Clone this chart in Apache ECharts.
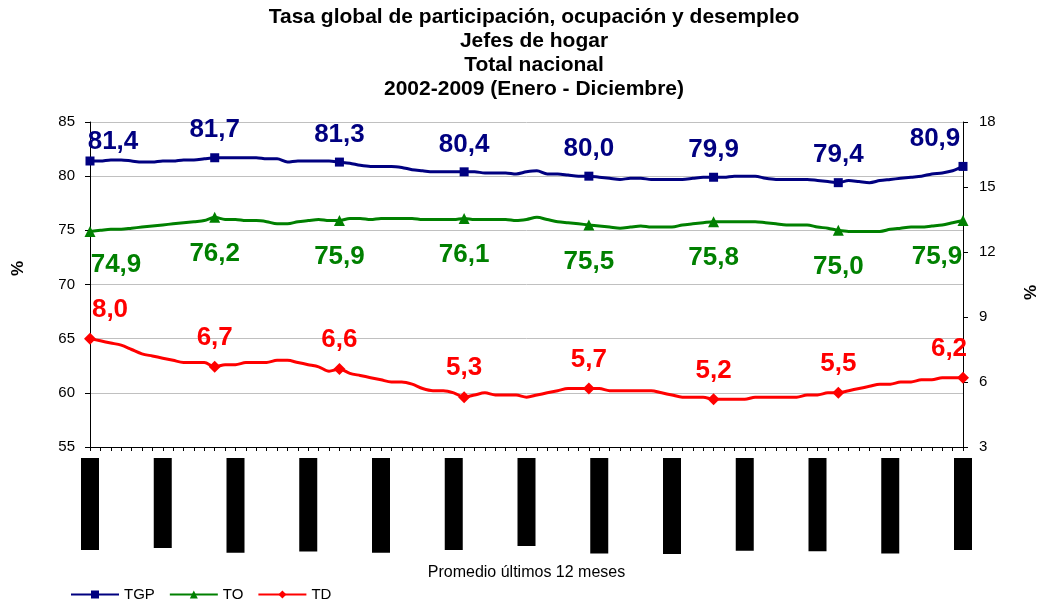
<!DOCTYPE html>
<html>
<head>
<meta charset="utf-8">
<script src="https://cdn.jsdelivr.net/npm/echarts@6/dist/echarts.min.js"></script>
<style>
  html, body { margin: 0; padding: 0; background: #fff; }
  #chart { width: 1041px; height: 603px; }
</style>
</head>
<body>
<div id="chart"></div>
<script>
// titulo del grafico
var titulo = [
  'Tasa global de participación, ocupación y desempleo',
  'Jefes de hogar',
  'Total nacional',
  '2002-2009 (Enero - Diciembre)'
];

// periodos moviles de 12 meses (Ene02-Dic02 ... Ene09-Dic09)
var meses = ['Ene', 'Feb', 'Mar', 'Abr', 'May', 'Jun', 'Jul', 'Ago', 'Sep', 'Oct', 'Nov', 'Dic'];
var categorias = [];
for (var i = 0; i < 85; i++) {
  var a1 = 2002 + Math.floor(i / 12);
  var a2 = 2002 + Math.floor((i + 11) / 12);
  categorias.push(meses[i % 12] + String(a1).slice(2) + ' - ' + meses[(i + 11) % 12] + String(a2).slice(2));
}

// TGP (eje izquierdo)
var tgp = [
  81.4, 81.4, 81.5, 81.5, 81.4, 81.3, 81.3, 81.4, 81.4, 81.5, 81.5, 81.6,
  81.7, 81.7, 81.7, 81.7, 81.7, 81.6, 81.6, 81.3, 81.4, 81.4, 81.4, 81.4,
  81.3, 81.2, 81.0, 80.9, 80.9, 80.9, 80.8, 80.6, 80.5, 80.4, 80.4, 80.4,
  80.4, 80.4, 80.3, 80.3, 80.3, 80.2, 80.4, 80.5, 80.2, 80.2, 80.1, 80.0,
  80.0, 79.9, 79.8, 79.7, 79.8, 79.8, 79.7, 79.7, 79.7, 79.7, 79.8, 79.9,
  79.9, 79.9, 80.0, 80.0, 80.0, 79.8, 79.7, 79.7, 79.7, 79.7, 79.6, 79.5,
  79.4, 79.6, 79.5, 79.4, 79.6, 79.7, 79.8, 79.9, 80.0, 80.2, 80.3, 80.5,
  80.9
];

// TO (eje izquierdo)
var to = [
  74.9, 75.0, 75.1, 75.1, 75.2, 75.3, 75.4, 75.5, 75.6, 75.7, 75.8, 75.9,
  76.2, 76.0, 76.0, 75.9, 75.9, 75.8, 75.6, 75.6, 75.8, 75.9, 76.0, 75.9,
  75.9, 76.1, 76.1, 76.0, 76.1, 76.1, 76.1, 76.1, 76.0, 76.0, 76.0, 76.0,
  76.1, 76.0, 76.0, 76.0, 76.0, 75.9, 76.0, 76.2, 76.0, 75.8, 75.7, 75.6,
  75.5, 75.4, 75.3, 75.2, 75.3, 75.4, 75.3, 75.3, 75.3, 75.5, 75.6, 75.7,
  75.8, 75.8, 75.8, 75.8, 75.8, 75.7, 75.6, 75.5, 75.5, 75.5, 75.3, 75.2,
  75.0, 74.9, 74.9, 74.9, 74.9, 75.1, 75.2, 75.3, 75.3, 75.4, 75.5, 75.7,
  75.9
];

// TD (eje derecho)
var td = [
  8.0, 7.9, 7.8, 7.7, 7.5, 7.3, 7.2, 7.1, 7.0, 6.9, 6.9, 6.9,
  6.7, 6.8, 6.8, 6.9, 6.9, 6.9, 7.0, 7.0, 6.9, 6.8, 6.7, 6.5,
  6.6, 6.4, 6.3, 6.2, 6.1, 6.0, 6.0, 5.9, 5.7, 5.6, 5.6, 5.5,
  5.3, 5.4, 5.5, 5.4, 5.4, 5.4, 5.3, 5.4, 5.5, 5.6, 5.7, 5.7,
  5.7, 5.7, 5.6, 5.6, 5.6, 5.6, 5.6, 5.5, 5.4, 5.3, 5.3, 5.3,
  5.2, 5.2, 5.2, 5.2, 5.3, 5.3, 5.3, 5.3, 5.3, 5.4, 5.4, 5.5,
  5.5, 5.6, 5.7, 5.8, 5.9, 5.9, 6.0, 6.0, 6.1, 6.1, 6.2, 6.2,
  6.2
];

var fuente = '"Liberation Sans", Arial, sans-serif';

// marcador y etiqueta solo cada 12 puntos
function puntos(valores, offIni, offFin) {
  return valores.map(function (v, i) {
    if (i % 12 !== 0) {
      return { value: v, symbol: 'none', label: { show: false } };
    }
    var item = { value: v };
    if (i === 0) item.label = { offset: offIni };
    if (i === valores.length - 1) item.label = { offset: offFin };
    return item;
  });
}

function etiqueta(color, pos, dist) {
  return {
    show: true,
    position: pos,
    distance: dist,
    color: color,
    fontSize: 26,
    fontWeight: 'bold',
    fontFamily: fuente,
    formatter: function (p) { return p.value.toFixed(1).replace('.', ','); }
  };
}

var myChart = echarts.init(document.getElementById('chart'));

var option = {
  backgroundColor: '#fff',
  animation: false,
  title: {
    text: titulo.join('\n'),
    left: 529,
    top: 0,
    textAlign: 'center',
    textStyle: { fontSize: 21, fontWeight: 'bold', lineHeight: 24, color: '#000', fontFamily: fuente }
  },
  legend: {
    left: 65,
    top: 582,
    itemWidth: 48,
    itemHeight: 10,
    itemGap: 14,
    textStyle: { fontSize: 15, color: '#000', fontFamily: fuente },
    data: ['TGP', 'TO', 'TD']
  },
  grid: { left: 90, right: 78, top: 122, bottom: 156, outerBoundsMode: 'none' },
  xAxis: {
    type: 'category',
    boundaryGap: false,
    data: categorias,
    name: 'Promedio últimos 12 meses',
    nameLocation: 'middle',
    nameGap: 118,
    nameTextStyle: { fontSize: 16, color: '#000', fontFamily: fuente },
    axisLine: { lineStyle: { color: '#000', width: 1 } },
    axisTick: { show: true, interval: 0, length: 4, lineStyle: { color: '#000' } },
    axisLabel: {
      interval: 6,
      rotate: 90,
      margin: 11,
      fontSize: 12,
      fontFamily: fuente,
      color: '#000',
      backgroundColor: '#000',
      padding: [3, 8]
    },
    splitLine: { show: false }
  },
  yAxis: [
    {
      type: 'value',
      min: 55,
      max: 85,
      interval: 5,
      name: '%',
      nameLocation: 'middle',
      nameRotate: 90,
      nameGap: 63,
      nameTextStyle: { fontSize: 17, fontWeight: 'bold', color: '#000', fontFamily: fuente, padding: [0, 0, 0, 32] },
      axisLine: { show: true, lineStyle: { color: '#000' } },
      axisTick: { show: true, length: 5, lineStyle: { color: '#000' } },
      axisLabel: { fontSize: 15, color: '#000', fontFamily: fuente, margin: 15 },
      splitLine: { show: true, lineStyle: { color: '#c0c0c0', width: 1 } }
    },
    {
      type: 'value',
      min: 3,
      max: 18,
      interval: 3,
      name: '%',
      nameLocation: 'middle',
      nameRotate: 90,
      nameGap: 60,
      nameTextStyle: { fontSize: 17, fontWeight: 'bold', color: '#000', fontFamily: fuente, padding: [0, 16, 0, 0] },
      axisLine: { show: true, lineStyle: { color: '#000' } },
      axisTick: { show: true, length: 5, lineStyle: { color: '#000' } },
      axisLabel: { fontSize: 15, color: '#000', fontFamily: fuente, margin: 16 },
      splitLine: { show: false }
    }
  ],
  series: [
    {
      name: 'TGP',
      type: 'line',
      yAxisIndex: 0,
      data: puntos(tgp, [23, 8], [-28, 0]),
      symbol: 'rect',
      symbolSize: 9,
      showAllSymbol: true,
      smooth: 0.3,
      lineStyle: { color: '#000080', width: 3 },
      itemStyle: { color: '#000080' },
      label: etiqueta('#000080', 'top', 10)
    },
    {
      name: 'TO',
      type: 'line',
      yAxisIndex: 0,
      data: puntos(to, [26, -3], [-26, 0]),
      symbol: 'triangle',
      symbolSize: 11,
      showAllSymbol: true,
      smooth: 0.3,
      lineStyle: { color: '#008000', width: 3 },
      itemStyle: { color: '#008000' },
      label: etiqueta('#008000', 'bottom', 18)
    },
    {
      name: 'TD',
      type: 'line',
      yAxisIndex: 1,
      data: puntos(td, [20, 0], [-14, 0]),
      symbol: 'diamond',
      symbolSize: 12,
      showAllSymbol: true,
      smooth: 0.3,
      lineStyle: { color: '#ff0000', width: 3 },
      itemStyle: { color: '#ff0000' },
      label: etiqueta('#ff0000', 'top', 10)
    }
  ]
};

myChart.setOption(option);
</script>
</body>
</html>
